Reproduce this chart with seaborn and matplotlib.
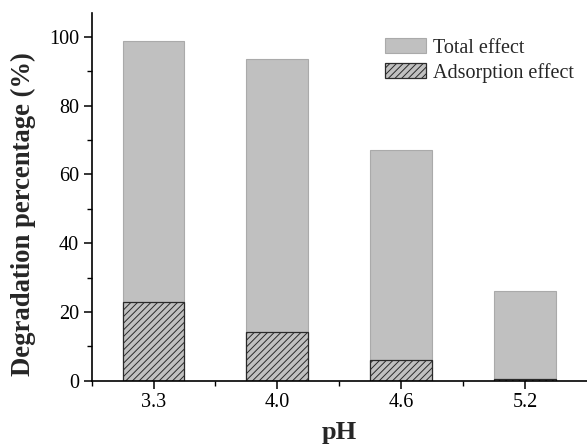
import matplotlib
matplotlib.use("Agg")
import matplotlib.pyplot as plt
from matplotlib.patches import Patch
from matplotlib.ticker import MultipleLocator, FixedLocator
import seaborn as sns
import pandas as pd

ph_labels = ["3.3", "4.0", "4.6", "5.2"]
total_effect = [98.8, 93.5, 67.2, 26.1]
adsorption_effect = [23.0, 14.1, 6.1, 0.5]

sns.set_style("ticks")
plt.rcParams["font.family"] = ["Liberation Serif", "DejaVu Serif"]
plt.rcParams["hatch.linewidth"] = 0.7

df = pd.DataFrame({"pH": ph_labels, "total": total_effect, "ads": adsorption_effect})

fig = plt.figure(figsize=(5.87, 4.45), dpi=100)
ax = fig.add_axes([0.156, 0.1445, 0.844, 0.8265])

bar_gray = "#c0c0c0"
sns.barplot(data=df, x="pH", y="total", color=bar_gray, saturation=1, width=0.5,
            edgecolor="#aaaaaa", linewidth=0.8, ax=ax)
n_total = len(ax.patches)
sns.barplot(data=df, x="pH", y="ads", color=bar_gray, saturation=1, width=0.5,
            edgecolor="#2a2a2a", linewidth=0.9, ax=ax)
for p in ax.patches[n_total:]:
    p.set_hatch("/////")

ax.set_xlim(-0.5, 3.5)
ax.set_ylim(0, 107)
ax.yaxis.set_major_locator(MultipleLocator(20))
ax.yaxis.set_minor_locator(MultipleLocator(10))
ax.xaxis.set_minor_locator(FixedLocator([-0.5, 0.5, 1.5, 2.5]))

for side in ("top", "right"):
    ax.spines[side].set_visible(False)
for side in ("left", "bottom"):
    ax.spines[side].set_linewidth(1.2)
    ax.spines[side].set_color("black")

ax.tick_params(which="major", direction="out", length=6, width=1.1, labelsize=14.5,
               colors="black", pad=3)
ax.tick_params(which="minor", direction="out", length=3.5, width=1.0, colors="black")

ax.set_xlabel("pH", fontsize=19, fontweight="bold", labelpad=6)
ax.set_ylabel("Degradation percentage (%)", fontsize=19.2, fontweight="bold")
ax.yaxis.set_label_coords(-0.112, 0.452)

handles = [
    Patch(facecolor=bar_gray, edgecolor="#aaaaaa", linewidth=0.8, label="Total effect"),
    Patch(facecolor=bar_gray, edgecolor="#2a2a2a", linewidth=0.9, hatch="/////",
          label="Adsorption effect"),
]
ax.legend(handles=handles, loc="upper left", bbox_to_anchor=(0.585, 0.942), frameon=False,
          fontsize=14.5, handlelength=2.0, handleheight=0.75, handletextpad=0.35,
          labelspacing=0.25, borderaxespad=0.0, borderpad=0.2)

fig.savefig("out.png", dpi=100)
